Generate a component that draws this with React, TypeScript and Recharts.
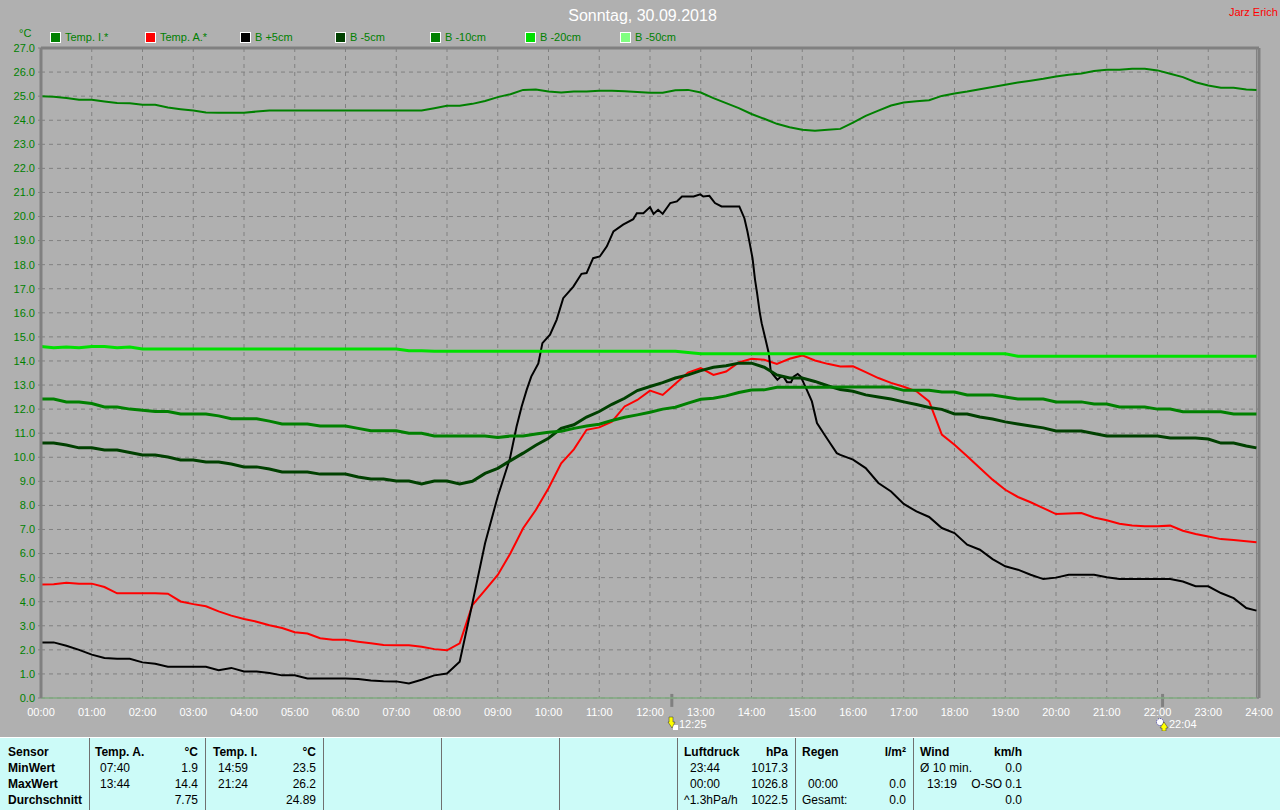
import React from 'react';
import { LineChart, Line, XAxis, YAxis, CartesianGrid, ReferenceLine } from 'recharts';

const times = [
  0, 0.25, 0.5, 0.75, 1, 1.25, 1.5, 1.75, 2, 2.25, 2.5, 2.75, 3, 3.25, 3.5, 3.75,
  4, 4.25, 4.5, 4.75, 5, 5.25, 5.5, 5.75, 6, 6.25, 6.5, 6.75, 7, 7.25, 7.5, 7.75,
  8, 8.25, 8.5, 8.75, 9, 9.25, 9.5, 9.75, 10, 10.25, 10.5, 10.75, 11, 11.25, 11.5, 11.75,
  12, 12.25, 12.5, 12.75, 13, 13.25, 13.5, 13.75, 14, 14.25, 14.5, 14.75, 15, 15.25, 15.5, 15.75,
  16, 16.25, 16.5, 16.75, 17, 17.25, 17.5, 17.75, 18, 18.25, 18.5, 18.75, 19, 19.25, 19.5, 19.75,
  20, 20.25, 20.5, 20.75, 21, 21.25, 21.5, 21.75, 22, 22.25, 22.5, 22.75, 23, 23.25, 23.5, 23.75,
  23.95,
];

const tempI = [
  25.0, 24.97, 24.92, 24.85, 24.85, 24.78, 24.72, 24.7, 24.64, 24.64, 24.53, 24.46, 24.4, 24.32, 24.31, 24.31,
  24.31, 24.36, 24.4, 24.4, 24.4, 24.4, 24.4, 24.4, 24.4, 24.4, 24.4, 24.4, 24.4, 24.4, 24.4, 24.5,
  24.6, 24.6, 24.68, 24.8, 24.96, 25.08, 25.26, 25.28, 25.19, 25.15, 25.19, 25.19, 25.22, 25.22, 25.2, 25.17,
  25.14, 25.14, 25.24, 25.26, 25.15, 24.92, 24.71, 24.5, 24.26, 24.06, 23.85, 23.71, 23.6, 23.56, 23.6, 23.64,
  23.9, 24.18, 24.4, 24.61, 24.74, 24.79, 24.83, 25.01, 25.11, 25.19, 25.29, 25.38, 25.47, 25.57, 25.64, 25.72,
  25.82, 25.89, 25.94, 26.04, 26.1, 26.1, 26.14, 26.14, 26.07, 25.93, 25.79, 25.58, 25.44, 25.35, 25.35, 25.28,
  25.26,
];

const tempA = [
  4.71, 4.73, 4.79, 4.75, 4.75, 4.61, 4.35, 4.35, 4.35, 4.35, 4.33, 4.01, 3.9, 3.81, 3.6, 3.42,
  3.28, 3.17, 3.02, 2.91, 2.73, 2.68, 2.48, 2.42, 2.42, 2.34, 2.27, 2.2, 2.19, 2.19, 2.13, 2.03,
  1.98, 2.27, 3.86, 4.48, 5.11, 6.01, 7.05, 7.81, 8.71, 9.75, 10.33, 11.14, 11.24, 11.48, 12.11, 12.38,
  12.77, 12.59, 13.05, 13.52, 13.7, 13.42, 13.56, 13.94, 14.09, 14.05, 13.88, 14.09, 14.23, 14.02, 13.88, 13.77,
  13.78, 13.54, 13.29, 13.09, 12.93, 12.74, 12.32, 10.94, 10.52, 10.04, 9.55, 9.07, 8.65, 8.35, 8.13, 7.89,
  7.64, 7.66, 7.68, 7.5, 7.38, 7.24, 7.17, 7.13, 7.13, 7.16, 6.95, 6.81, 6.71, 6.6, 6.56, 6.51,
  6.47,
];

// the soil probe at +5cm moves fast around midday, so it gets its own finer time list
const bPlus5Times = [
  0, 0.25, 0.5, 0.75, 1, 1.25, 1.5, 1.75, 2, 2.25, 2.5, 2.75, 3, 3.25, 3.5, 3.75,
  4, 4.25, 4.5, 4.75, 5, 5.25, 5.5, 5.75, 6, 6.25, 6.5, 6.75, 7, 7.25, 7.5, 7.75,
  8, 8.25, 8.5, 8.75, 9, 9.24, 9.37, 9.47, 9.57, 9.66, 9.8, 9.88, 10.03, 10.16, 10.29, 10.49,
  10.65, 10.75, 10.88, 11.01, 11.15, 11.28, 11.47, 11.67, 11.74, 11.87, 12, 12.07, 12.16, 12.25, 12.4, 12.53,
  12.63, 12.86, 12.99, 13.05, 13.17, 13.28, 13.41, 13.76, 13.86, 13.92, 13.97, 14.02, 14.07, 14.11, 14.16, 14.2,
  14.27, 14.34, 14.38, 14.43, 14.51, 14.57, 14.63, 14.7, 14.78, 14.83, 14.91, 14.97, 15.09, 15.19, 15.29, 15.42,
  15.55, 15.68, 15.75,
  16, 16.25, 16.5, 16.75, 17, 17.25, 17.5, 17.75, 18, 18.25, 18.5, 18.75, 19, 19.25, 19.5, 19.75,
  20, 20.25, 20.5, 20.75, 21, 21.25, 21.5, 21.75, 22, 22.25, 22.5, 22.75, 23, 23.25, 23.5, 23.75,
  23.95,
];
const bPlus5 = [
  2.31, 2.31, 2.17, 2.0, 1.8, 1.66, 1.63, 1.63, 1.48, 1.42, 1.3, 1.3, 1.3, 1.3, 1.15, 1.25,
  1.1, 1.1, 1.04, 0.94, 0.94, 0.81, 0.81, 0.81, 0.81, 0.79, 0.73, 0.7, 0.69, 0.6, 0.76, 0.94,
  1.02, 1.51, 3.93, 6.43, 8.37, 9.95, 11.27, 12.1, 12.8, 13.35, 13.9, 14.74, 15.09, 15.71, 16.61, 17.09,
  17.62, 17.65, 18.27, 18.34, 18.76, 19.38, 19.66, 19.89, 20.14, 20.14, 20.39, 20.11, 20.28, 20.11, 20.56, 20.63,
  20.83, 20.83, 20.92, 20.83, 20.86, 20.56, 20.42, 20.42, 19.93, 19.38, 18.83, 18.27, 17.37, 16.82, 16.05, 15.57,
  14.95, 14.32, 13.56, 13.42, 13.22, 13.33, 13.35, 13.12, 13.12, 13.35, 13.46, 13.35, 12.8, 12.32, 11.42, 11.0,
  10.58, 10.17, 10.1,
  9.9, 9.55, 8.93, 8.58, 8.06, 7.75, 7.52, 7.06, 6.85, 6.37, 6.16, 5.77, 5.47, 5.33, 5.12, 4.94,
  5.0, 5.12, 5.12, 5.12, 5.02, 4.94, 4.94, 4.94, 4.94, 4.94, 4.84, 4.64, 4.64, 4.36, 4.15, 3.74,
  3.63,
];

const bMinus5 = [
  10.59, 10.59, 10.51, 10.39, 10.39, 10.3, 10.3, 10.2, 10.09, 10.09, 10.01, 9.89, 9.89, 9.8, 9.8, 9.72,
  9.6, 9.6, 9.51, 9.39, 9.39, 9.39, 9.3, 9.3, 9.3, 9.18, 9.1, 9.1, 9.01, 9.01, 8.89, 9.01,
  9.01, 8.89, 9.0, 9.33, 9.54, 9.86, 10.17, 10.5, 10.79, 11.2, 11.35, 11.67, 11.9, 12.2, 12.45, 12.77,
  12.94, 13.1, 13.29, 13.42, 13.6, 13.74, 13.8, 13.91, 13.91, 13.74, 13.42, 13.29, 13.29, 13.15, 12.97, 12.81,
  12.74, 12.59, 12.5, 12.42, 12.3, 12.19, 12.07, 11.99, 11.8, 11.8, 11.67, 11.59, 11.47, 11.38, 11.3, 11.22,
  11.09, 11.09, 11.09, 10.99, 10.88, 10.88, 10.88, 10.88, 10.88, 10.8, 10.8, 10.8, 10.76, 10.59, 10.59, 10.47,
  10.39,
];

const bMinus10 = [
  12.42, 12.42, 12.3, 12.3, 12.23, 12.09, 12.09, 12.0, 11.95, 11.9, 11.9, 11.8, 11.8, 11.8, 11.72, 11.6,
  11.6, 11.6, 11.5, 11.38, 11.38, 11.38, 11.3, 11.3, 11.3, 11.2, 11.1, 11.1, 11.1, 11.0, 11.0, 10.88,
  10.88, 10.88, 10.88, 10.88, 10.82, 10.88, 10.88, 10.97, 11.04, 11.08, 11.2, 11.3, 11.37, 11.53, 11.66, 11.76,
  11.87, 12.0, 12.08, 12.25, 12.41, 12.45, 12.55, 12.69, 12.79, 12.8, 12.91, 12.91, 12.91, 12.91, 12.91, 12.92,
  12.92, 12.92, 12.92, 12.92, 12.78, 12.78, 12.78, 12.71, 12.71, 12.59, 12.59, 12.59, 12.5, 12.42, 12.42, 12.42,
  12.3, 12.3, 12.3, 12.21, 12.21, 12.09, 12.09, 12.09, 12.0, 12.0, 11.89, 11.89, 11.89, 11.89, 11.8, 11.8,
  11.8,
];

const bMinus20 = [
  14.6, 14.55, 14.58, 14.55, 14.6, 14.6, 14.55, 14.58, 14.5, 14.5, 14.5, 14.5, 14.5, 14.5, 14.5, 14.5,
  14.5, 14.5, 14.5, 14.5, 14.5, 14.5, 14.5, 14.5, 14.5, 14.5, 14.5, 14.5, 14.5, 14.42, 14.42, 14.4,
  14.4, 14.4, 14.4, 14.4, 14.4, 14.4, 14.4, 14.4, 14.4, 14.4, 14.4, 14.4, 14.4, 14.4, 14.4, 14.4,
  14.4, 14.4, 14.4, 14.35, 14.3, 14.3, 14.3, 14.3, 14.3, 14.3, 14.3, 14.3, 14.3, 14.3, 14.3, 14.3,
  14.3, 14.3, 14.3, 14.3, 14.3, 14.3, 14.3, 14.3, 14.3, 14.3, 14.3, 14.3, 14.3, 14.2, 14.2, 14.2,
  14.2, 14.2, 14.2, 14.2, 14.2, 14.2, 14.2, 14.2, 14.2, 14.2, 14.2, 14.2, 14.2, 14.2, 14.2, 14.2,
  14.2,
];

// B -50cm had no sensor reading that day, it sits flat on the zero line
const bMinus50Times = [0, 23.95];
const bMinus50 = [0, 0];

const hourTicks = [0, 1, 2, 3, 4, 5, 6, 7, 8, 9, 10, 11, 12, 13, 14, 15, 16, 17, 18, 19, 20, 21, 22, 23, 24];
const tempTicks = [0, 1, 2, 3, 4, 5, 6, 7, 8, 9, 10, 11, 12, 13, 14, 15, 16, 17, 18, 19, 20, 21, 22, 23, 24, 25, 26, 27];

const legendNames = ['Temp. I.*', 'Temp. A.*', 'B +5cm', 'B -5cm', 'B -10cm', 'B -20cm', 'B -50cm'];
const legendColors = ['#008000', '#ff0000', '#000000', '#004000', '#008000', '#00e000', '#80ff80'];

const sunrise = 12.43;
const sunset = 22.1;

const rows = times.map((t, i) => ({
  t,
  tempI: tempI[i],
  tempA: tempA[i],
  bMinus5: bMinus5[i],
  bMinus10: bMinus10[i],
  bMinus20: bMinus20[i],
}));
const rowsPlus5 = bPlus5Times.map((t, i) => ({ t, bPlus5: bPlus5[i] }));
const rowsMinus50 = bMinus50Times.map((t, i) => ({ t, bMinus50: bMinus50[i] }));

const panelCols = [
  { x: 8, right: 0, timeX: 8, head: ['Sensor', ''], lines: [['MinWert', ''], ['MaxWert', ''], ['Durchschnitt', '']], boldLeft: true },
  { x: 95, right: 198, timeX: 100, head: ['Temp. A.', '°C'], lines: [['07:40', '1.9'], ['13:44', '14.4'], ['', '7.75']] },
  { x: 213, right: 316, timeX: 218, head: ['Temp. I.', '°C'], lines: [['14:59', '23.5'], ['21:24', '26.2'], ['', '24.89']] },
  { x: 684, right: 788, timeX: 690, head: ['Luftdruck', 'hPa'], lines: [['23:44', '1017.3'], ['00:00', '1026.8'], ['^1.3hPa/h', '1022.5']] },
  { x: 802, right: 906, timeX: 808, head: ['Regen', 'l/m²'], lines: [['', ''], ['00:00', '0.0'], ['Gesamt:', '0.0']] },
  { x: 920, right: 1022, timeX: 927, head: ['Wind', 'km/h'], lines: [['Ø 10 min.', '0.0'], ['13:19', 'O-SO 0.1'], ['', '0.0']] },
];
const flushLeftLabels = ['^1.3hPa/h', 'Gesamt:', 'Ø 10 min.'];
const panelSeparators = [89, 205, 323, 441, 559, 677, 795, 913];

const FONT = '"Liberation Sans", Arial, sans-serif';

const abs = (x: number, y: number): React.CSSProperties => ({ position: 'absolute', left: x, top: y, whiteSpace: 'nowrap' });

const ChartLegend = () => (
  <div style={{ position: 'absolute', left: 50, top: 31, width: 700, height: 14 }}>
    {legendNames.map((name, i) => (
      <div key={name} style={abs(i * 95, 0)}>
        <span style={{ display: 'inline-block', boxSizing: 'border-box', width: 11, height: 11, background: legendColors[i], border: '1px solid #fff', verticalAlign: 'top', marginTop: 1 }} />
        <span style={{ marginLeft: 4, fontFamily: FONT, fontSize: 11, color: '#008000', lineHeight: '13px', verticalAlign: 'top' }}>{name}</span>
      </div>
    ))}
  </div>
);

// sunrise / sunset glyph beside the time under the axis
const SunIcon = ({ x, up }: { x: number; up: boolean }) => (
  <svg style={{ position: 'absolute', left: x, top: 716 }} width={14} height={15}>
    {up ? (
      <>
        <circle cx={4} cy={6} r={3.5} fill="#fff" stroke="#3030a0" strokeDasharray="1 1" />
        <polygon points="8,6 12,12 10,12 10,15 6,15 6,12 4,12" fill="#ffff00" stroke="#303030" strokeWidth={0.5} />
      </>
    ) : (
      <>
        <rect x={7} y={9} width={5} height={5} fill="#fff" />
        <polygon points="3,1 7,1 7,6 9,6 6,12 2,6 3,6" fill="#ffff00" stroke="#303030" strokeWidth={0.5} />
      </>
    )}
  </svg>
);

const StatsPanel = () => (
  <div style={{ position: 'absolute', left: 0, top: 737, width: 1280, height: 73, background: '#ccfbf8', borderTop: '1px solid #fff', boxSizing: 'border-box', fontFamily: FONT, fontSize: 12, color: '#000' }}>
    {panelSeparators.map((x) => (
      <div key={x} style={{ position: 'absolute', left: x, top: 0, width: 1, height: 73, background: '#707070' }} />
    ))}
    {panelCols.map((col) => (
      <React.Fragment key={col.x}>
        <span style={{ ...abs(col.x, 7), fontWeight: 'bold', lineHeight: '14px' }}>{col.head[0]}</span>
        <span style={{ position: 'absolute', top: 7, left: col.right - 60, width: 60, textAlign: 'right', fontWeight: 'bold', lineHeight: '14px' }}>{col.head[1]}</span>
        {col.lines.map((line, i) => (
          <React.Fragment key={i}>
            <span style={{ ...abs(flushLeftLabels.includes(line[0]) ? col.x : col.timeX, 23 + i * 16), fontWeight: col.boldLeft ? 'bold' : 'normal', lineHeight: '14px' }}>{line[0]}</span>
            <span style={{ position: 'absolute', top: 23 + i * 16, left: col.right - 60, width: 60, textAlign: 'right', lineHeight: '14px' }}>{line[1]}</span>
          </React.Fragment>
        ))}
      </React.Fragment>
    ))}
  </div>
);

const formatHour = (h: number) => `${String(h).padStart(2, '0')}:00`;

export default function App() {
  return (
    <div style={{ position: 'absolute', left: 0, top: 0, width: 1280, height: 810, background: '#b0b0b0', overflow: 'hidden', fontFamily: FONT }}>
      <LineChart width={1280} height={737} data={rows} margin={{ top: 48, right: 21, bottom: 0, left: 0 }}>
        <CartesianGrid stroke="#808080" strokeDasharray="4 4" />
        <XAxis
          dataKey="t"
          type="number"
          domain={[0, 24]}
          ticks={hourTicks}
          interval={0}
          height={39}
          tickFormatter={formatHour}
          tick={{ fill: '#ffffff', fontSize: 11, fontFamily: FONT }}
          tickLine={false}
          tickMargin={4}
          axisLine={{ stroke: '#808080', strokeWidth: 1 }}
        />
        <YAxis
          type="number"
          domain={[0, 27]}
          ticks={tempTicks}
          interval={0}
          width={41}
          tickFormatter={(v: number) => v.toFixed(1)}
          tick={{ fill: '#008000', fontSize: 11, fontFamily: FONT }}
          tickSize={3}
          tickMargin={3}
          tickLine={{ stroke: '#808080' }}
          axisLine={{ stroke: '#808080', strokeWidth: 3 }}
        />
        <ReferenceLine y={27} stroke="#808080" strokeWidth={3} />
        <ReferenceLine x={24} stroke="#808080" strokeWidth={3} />
        <ReferenceLine x={23.95} stroke="#808080" strokeWidth={1} />
        <ReferenceLine segment={[{ x: sunrise, y: 0.17 }, { x: sunrise, y: -0.37 }]} stroke="#808080" strokeWidth={3} ifOverflow="visible" />
        <ReferenceLine segment={[{ x: sunset, y: 0.17 }, { x: sunset, y: -0.37 }]} stroke="#808080" strokeWidth={3} ifOverflow="visible" />
        <Line data={rowsMinus50} dataKey="bMinus50" name="B -50cm" stroke="#80ff80" strokeWidth={1} dot={false} isAnimationActive={false} />
        <Line dataKey="tempI" name="Temp. I.*" stroke="#008000" strokeWidth={2} dot={false} isAnimationActive={false} />
        <Line dataKey="tempA" name="Temp. A.*" stroke="#ff0000" strokeWidth={2} dot={false} isAnimationActive={false} />
        <Line data={rowsPlus5} dataKey="bPlus5" name="B +5cm" stroke="#000000" strokeWidth={2} dot={false} isAnimationActive={false} />
        <Line dataKey="bMinus5" name="B -5cm" stroke="#004000" strokeWidth={3} dot={false} isAnimationActive={false} />
        <Line dataKey="bMinus10" name="B -10cm" stroke="#008000" strokeWidth={3} dot={false} isAnimationActive={false} />
        <Line dataKey="bMinus20" name="B -20cm" stroke="#00e000" strokeWidth={3} dot={false} isAnimationActive={false} />
      </LineChart>

      <ChartLegend />

      <div style={{ ...abs(0, 6), width: 1285, textAlign: 'center', fontFamily: FONT, fontSize: 16, color: '#fff', lineHeight: '20px' }}>Sonntag, 30.09.2018</div>
      <div style={{ ...abs(1229, 6), fontFamily: FONT, fontSize: 11, color: '#ff0000', lineHeight: '13px' }}>Jarz Erich</div>
      <div style={{ ...abs(19, 27), fontFamily: FONT, fontSize: 11, color: '#008000', lineHeight: '13px' }}>°C</div>

      <SunIcon x={666} up={false} />
      <div style={{ ...abs(679, 718), fontFamily: FONT, fontSize: 11, color: '#fff', lineHeight: '13px' }}>12:25</div>
      <SunIcon x={1156} up />
      <div style={{ ...abs(1169, 718), fontFamily: FONT, fontSize: 11, color: '#fff', lineHeight: '13px' }}>22:04</div>

      <StatsPanel />
    </div>
  );
}
